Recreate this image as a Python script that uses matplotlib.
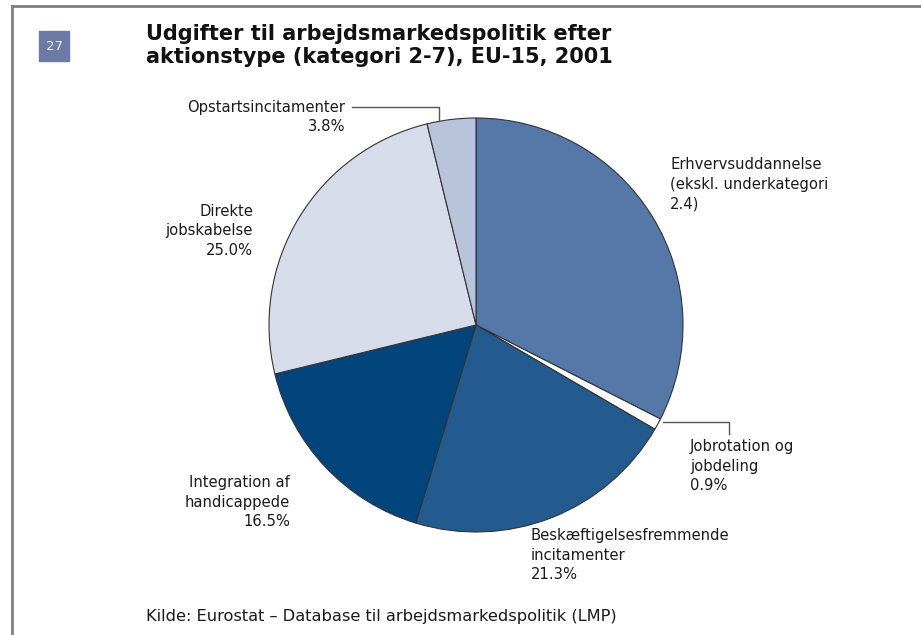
import numpy as np
import matplotlib
matplotlib.use("Agg")
import matplotlib.pyplot as plt
from matplotlib.patches import Rectangle
from matplotlib.lines import Line2D

W, H = 921, 635

# data (clockwise from 12 o'clock)
labels = ["Erhvervsuddannelse\n(ekskl. underkategori\n2.4)",
          "Jobrotation og\njobdeling\n0.9%",
          "Beskæftigelsesfremmende\nincitamenter\n21.3%",
          "Integration af\nhandicappede\n16.5%",
          "Direkte\njobskabelse\n25.0%",
          "Opstartsincitamenter\n3.8%"]
shares = [32.5, 0.9, 21.3, 16.5, 25.0, 3.8]
colors = ["#5578a8", "#ffffff", "#235b8e", "#01457c", "#d6dcea", "#b8c4dc"]

title = "Udgifter til arbejdsmarkedspolitik efter\naktionstype (kategori 2-7), EU-15, 2001"
source = "Kilde: Eurostat – Database til arbejdsmarkedspolitik (LMP)"

fig = plt.figure(figsize=(W / 100, H / 100), dpi=100)

def fx(px):
    return px / W

def fy(py):
    return 1 - py / H

# pie axes, centre (476,325) radius 207 px
cx, cy, r = 476, 325, 207
ax = fig.add_axes([fx(cx - r), fy(cy + r), 2 * r / W, 2 * r / H])
ax.pie(shares, colors=colors, startangle=90, counterclock=False,
       wedgeprops=dict(edgecolor="#333333", linewidth=0.8))
ax.set_xlim(-1, 1)
ax.set_ylim(-1, 1)
ax.set_aspect("equal")
ax.axis("off")

def d(px, py):
    return (px - cx) / r, (cy - py) / r

# label positions (px) and alignment
lab_pos = [(670, 184, "left"), (690, 466, "left"), (531, 555, "left"),
           (290, 502, "right"), (253, 231, "right"), (345, 117, "right")]
for lab, (px, py, ha) in zip(labels, lab_pos):
    x, y = d(px, py)
    ax.text(x, y, lab, ha=ha, va="center", fontsize=10.6, family="DejaVu Sans",
            color="#1a1a1a", linespacing=1.38, clip_on=False)

# leader lines
for pts in [[(663, 422), (729, 422), (729, 434)],
            [(352, 107), (439, 107), (439, 120)]]:
    xs, ys = zip(*[d(*p) for p in pts])
    ax.plot(xs, ys, color="#555555", lw=1, clip_on=False)

# frame
fig.add_artist(Line2D([fx(12), fx(12)], [fy(6), 0], color="#808080", lw=2))
fig.add_artist(Line2D([fx(12), 1], [fy(6), fy(6)], color="#808080", lw=2))

# badge
fig.add_artist(Rectangle((fx(39), fy(61)), 30 / W, 30 / H, color="#6b7ba6",
                         transform=fig.transFigure))
fig.text(fx(54), fy(46), "27", ha="center", va="center", color="#eef0f6", fontsize=9.5)

fig.text(fx(146), fy(24), title, ha="left", va="top", fontsize=15,
         fontweight="bold", family="DejaVu Sans",
         color="#111111", linespacing=1.17)
fig.text(fx(146), fy(617), source, ha="left", va="center", fontsize=11.7,
         family="DejaVu Sans", color="#1a1a1a")

fig.savefig("out.png", dpi=100)
